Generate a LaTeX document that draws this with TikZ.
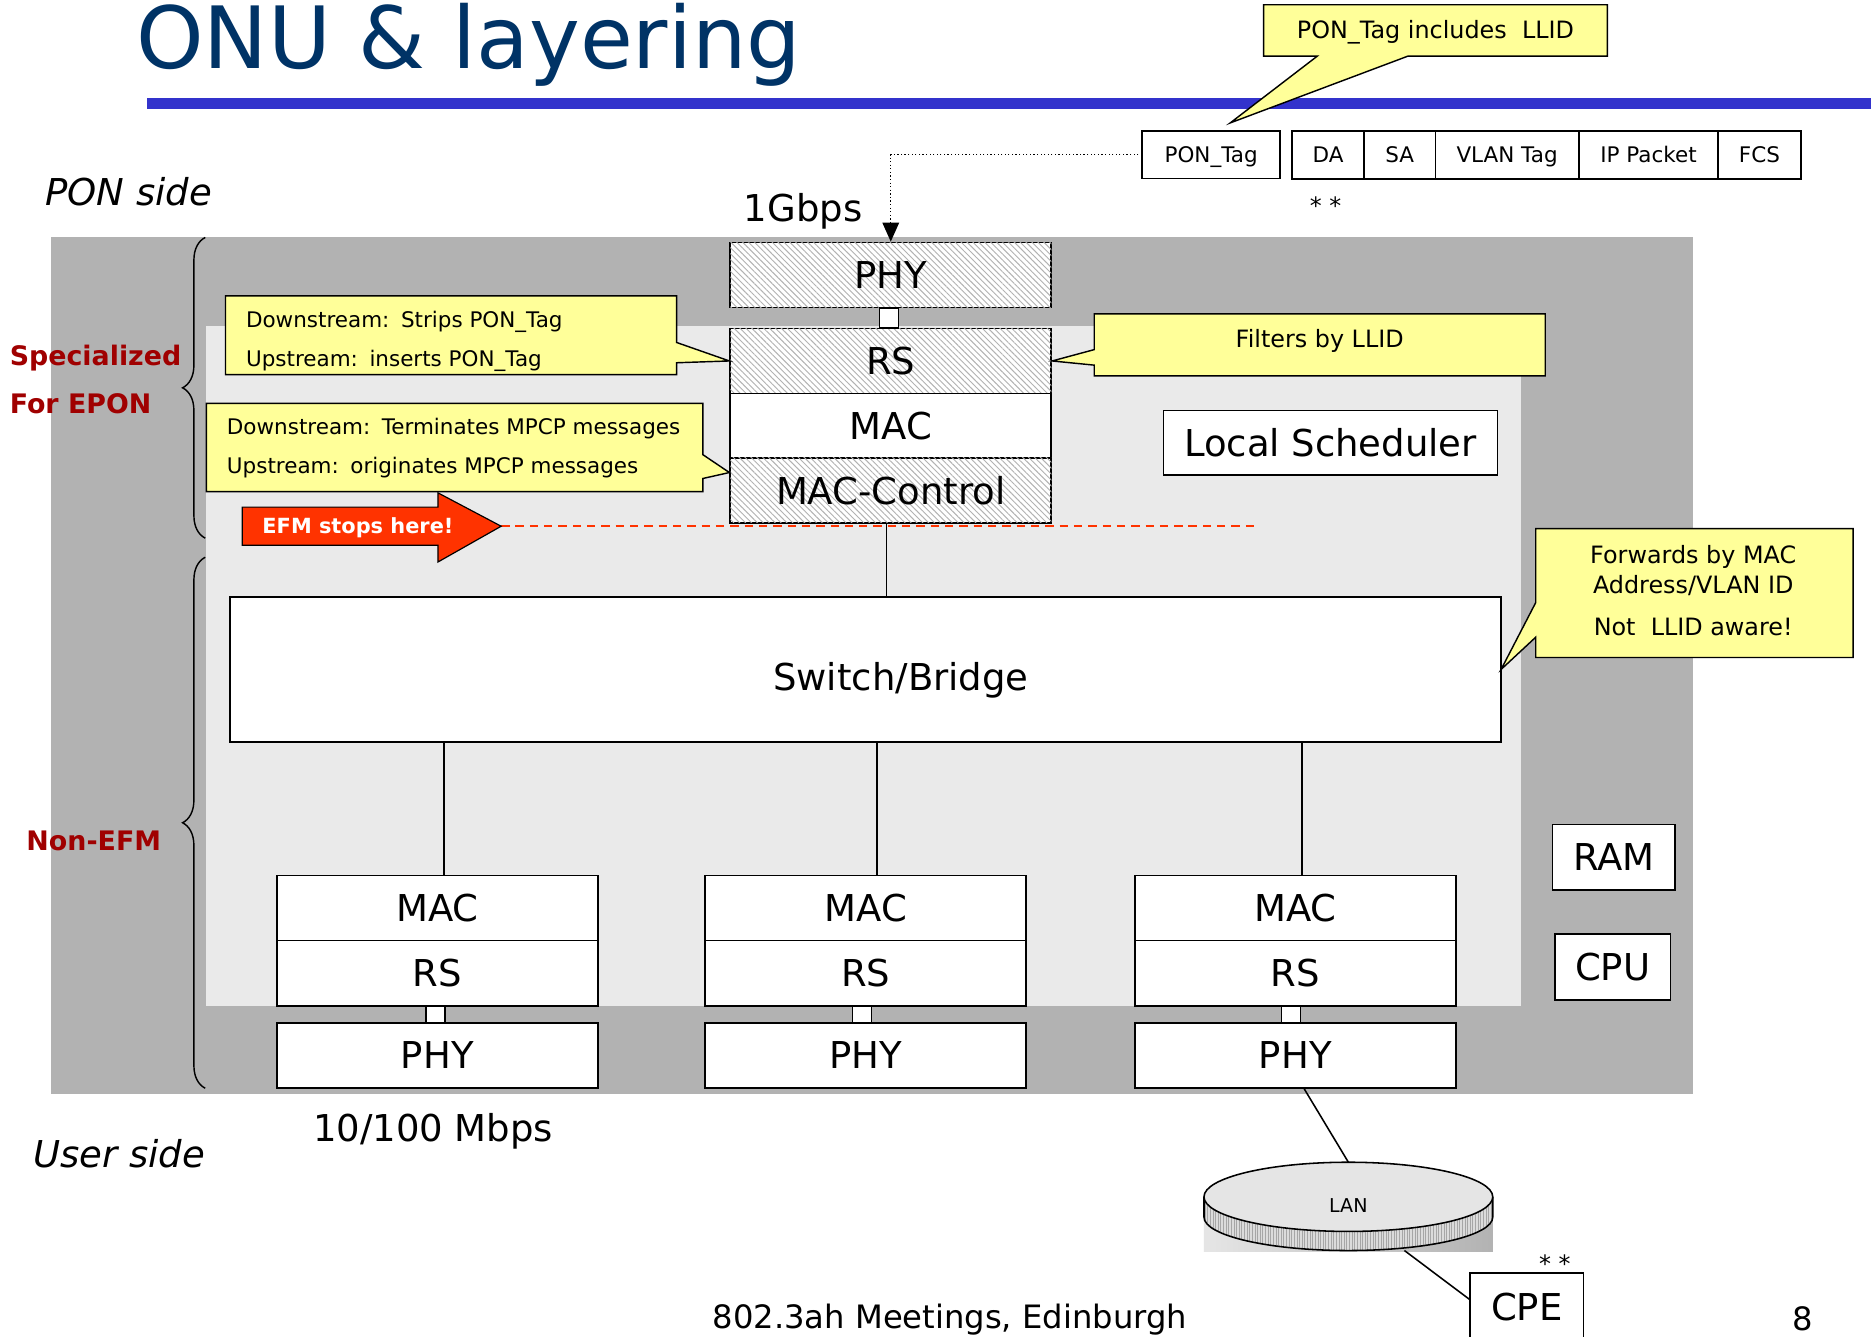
\documentclass[tikz,border=0pt]{standalone}
\usepackage{fontspec}
\setmainfont{DejaVu Sans}
\usetikzlibrary{arrows.meta,patterns.meta,decorations.pathreplacing}

\definecolor{outergrey}{HTML}{B2B2B2}
\definecolor{innergrey}{HTML}{EAEAEA}
\definecolor{noteyellow}{HTML}{FFFF99}
\definecolor{efmred}{HTML}{FF3300}
\definecolor{titleblue}{HTML}{003366}
\definecolor{barblue}{HTML}{3333CC}
\definecolor{labelred}{HTML}{A00000}
\newcommand\fsz[2]{\fontsize{#1}{#2}\selectfont}
\newcommand\gap{\hspace{4pt} }

\begin{document}
\begin{tikzpicture}[x=1pt,y=-1pt,
  every node/.style={inner sep=0pt},
  layer/.style={draw, line width=1.5pt, fill=white, minimum width=269pt,
    minimum height=54.5pt, font=\fsz{31}{36}},
  hatched/.style={layer, postaction={pattern={Lines[angle=-45,distance=3.5pt,line width=0.8pt]},
    pattern color=black!30}},
  joint/.style={draw, line width=1.3pt, fill=white, minimum width=16pt},
  plainbox/.style={draw, line width=1.5pt, fill=white, font=\fsz{31}{36}},
  field/.style={draw, line width=1.5pt, fill=white, minimum height=40pt, outer sep=0pt,
    text height=13pt, text depth=0pt, font=\fsz{18}{22}},
  note/.style={draw, line width=1.2pt, fill=noteyellow, line join=miter},
  smallnote/.style={font=\fsz{18}{33}\frenchspacing, align=left},
  bignote/.style={font=\fsz{20}{25}, align=center},
  wire/.style={line width=1.3pt},
  sidelabel/.style={font=\fsz{31}{36}\itshape},
  tierlabel/.style={font=\fsz{22.5}{40}\bfseries, text=labelred, align=left},
  bracket/.style={line width=1.2pt, decorate, decoration={brace, amplitude=19pt}},
]
\useasboundingbox (0,0) rectangle (1568,1120);
\fill[white] (0,0) rectangle (1568,1120);

% ---- heading ----
\node[anchor=base west, text=titleblue, font=\fsz{72}{80}] (title) at (114,57) {ONU \& layering};
\fill[barblue] (123,82) rectangle (1568,91);

% ---- ONU enclosure ----
\fill[outergrey] (43,199) rectangle (1419,917);
\fill[innergrey] (173,273) rectangle (1275,843);

% ---- frame format ----
\node[field, minimum width=116pt] (tag) at (1015,129.5) {PON\_Tag};
\node[field, minimum width=60pt] (da) at (1113,130) {DA};
\node[field, minimum width=60pt, anchor=west] (sa) at (da.east) {SA};
\node[field, minimum width=120pt, anchor=west] (vlan) at (sa.east) {VLAN Tag};
\node[field, minimum width=117pt, anchor=west] (ip) at (vlan.east) {IP Packet};
\node[field, minimum width=69pt, anchor=west] (fcs) at (ip.east) {FCS};
\node[font=\fsz{20}{24}, anchor=base] (starsda) at (1111,180) {* *};

% ---- PON-side stack ----
\node[hatched] (phy0) at (746.5,230.5) {PHY};
\node[hatched] (rs0) at (746.5,302.5) {RS};
\node[layer] (mac0) at (746.5,357) {MAC};
\node[hatched] (ctl0) at (746.5,411) {MAC-Control};
\node[joint, minimum height=17pt] (j0) at (745,266.5) {};

\draw[dotted, line width=1pt, -{Triangle[width=14pt,length=16pt]}] (tag.west) -| (phy0.north);
\node[font=\fsz{31}{36}] (gbps) at (673,177) {1Gbps};

% ---- bridge and user ports ----
\node[plainbox, minimum width=1065pt, minimum height=122pt,
  label={[font=\fsz{31}{36}, xshift=29.5pt, yshift=-9pt]center:Switch/Bridge}] (sw) at (725.5,561) {};
\draw[wire] ([xshift=-3.5pt]ctl0.south) -- ([xshift=-3.5pt]ctl0.south |- sw.north);

\foreach \i/\x/\jx/\dx in {1/366.5/365/5.5, 2/725.5/722.5/9.5, 3/1085.5/1082/5.5} {
  \node[layer] (mac\i) at (\x,761) {MAC};
  \node[layer] (rs\i) at (\x,815.5) {RS};
  \node[layer] (phy\i) at (\x,884.5) {PHY};
  \node[joint, minimum height=14pt] (j\i) at (\jx,850) {};
  \draw[wire] ([xshift=\dx pt]mac\i.north) -- ([xshift=\dx pt]mac\i.north |- sw.south);
}

\node[plainbox, minimum width=280pt, minimum height=54pt] (sched) at (1115,371) {Local Scheduler};
\node[plainbox, minimum width=103pt, minimum height=55pt] (ram) at (1352.5,718.5) {RAM};
\node[plainbox, minimum width=97pt, minimum height=55pt] (cpu) at (1351.5,810.5) {CPU};

% ---- EFM boundary ----
\coordinate (efmtip) at (420,441);
\coordinate (efmend) at (1055,441);
\draw[efmred, line width=1.4pt, dash pattern=on 7pt off 5pt] (efmtip) -- (efmend);
\filldraw[fill=efmred, draw=black, line width=1pt, line join=miter]
  (203,425) -- (367,425) -- (367,413) -- (efmtip) -- (367,471) -- (367,457) -- (203,457) -- cycle;
\node[font=\fsz{17.5}{20}\bfseries, text=white] (efm) at (300,442) {EFM stops here!};

% ---- callouts ----
\filldraw[note] (1059,4) -- (1347,4) -- (1347,47) -- (1180,47) -- (1031,103) -- (1104,47) -- (1059,47) -- cycle;
\node[bignote] (ntag) at (1203,27) {PON\_Tag includes~ LLID};

\filldraw[note] (189,248) -- (567,248) -- (567,287) -- (rs0.west) -- (567,304) -- (567,314) -- (189,314) -- cycle;
\node[smallnote, anchor=west] (nrs) at (206,286) {Downstream:\gap Strips PON\_Tag\\Upstream:\gap inserts PON\_Tag};

\filldraw[note] (173,338) -- (589,338) -- (589,381) -- ([yshift=15pt]ctl0.west) -- (589,401) -- (589,412) -- (173,412) -- cycle;
\node[smallnote, anchor=west] (nctl) at (190,375.5) {Downstream:\gap Terminates MPCP messages\\Upstream:\gap originates MPCP messages};

\filldraw[note] (917,263) -- (1295,263) -- (1295,315) -- (917,315) -- (917,306) -- (rs0.east) -- (917,293) -- cycle;
\node[bignote] (nfilt) at (1106,286) {Filters by LLID};

\filldraw[note] (1287,443) -- (1553,443) -- (1553,551) -- (1287,551) -- (1287,534) -- (1258,561) -- (1287,505) -- cycle;
\node[bignote] (nfwd) at (1419,495) {Forwards by MAC\\Address/VLAN ID\\[10pt]Not~ LLID aware!};

% ---- braces and side labels ----
\draw[bracket] (172,451) -- (172,199);
\draw[bracket] (172,912) -- (172,467);
\node[tierlabel, anchor=west] (spec) at (8,318) {Specialized\\For EPON};
\node[tierlabel, anchor=west] (nonefm) at (22,705) {Non-EFM};
\node[sidelabel] (ponside) at (108,161) {PON side};
\node[sidelabel] (userside) at (100,967) {User side};
\node[font=\fsz{31}{36}] (mbps) at (363,948) {10/100 Mbps};

% ---- LAN segment and CPE ----
\coordinate (lan) at (1130,1003);
\coordinate (lantop) at (1130,974);
\coordinate (lanbot) at (1177,1048);
\shade[left color=black!10, right color=black!30] (1009,1010) rectangle (1251,1049);
\path[fill=black!14, postaction={pattern={Lines[angle=90,distance=2.2pt,line width=0.4pt]}, pattern color=black!35}]
  (1009,1003) -- (1009,1020) arc[start angle=180, end angle=0, x radius=121, y radius=28]
  -- (1251,1003) arc[start angle=0, end angle=180, x radius=121, y radius=29] -- cycle;
\draw[line width=1.3pt] (1009,1003) -- (1009,1020) arc[start angle=180, end angle=0, x radius=121, y radius=28] -- (1251,1003);
\draw[line width=1.3pt, fill=black!10] (lan) ellipse[x radius=121, y radius=29];
\node[font=\fsz{16}{20}] (lantext) at (1130,1010) {LAN};
\draw[wire] ([xshift=7.5pt]phy3.south) -- (lantop);

\node[plainbox, minimum width=95pt, minimum height=56pt] (cpe) at (1279.5,1095) {CPE};
\draw[wire] (lanbot) -- ([yshift=-22.5pt]cpe.north west);
\node[font=\fsz{20}{24}, anchor=base] (starscpe) at (1303,1066) {* *};

% ---- footer ----
\node[font=\fsz{27}{32}] (footer) at (796,1106) {802.3ah Meetings, Edinburgh};
\node[font=\fsz{27}{32}] (page) at (1511,1105) {8};
\end{tikzpicture}
\end{document}
